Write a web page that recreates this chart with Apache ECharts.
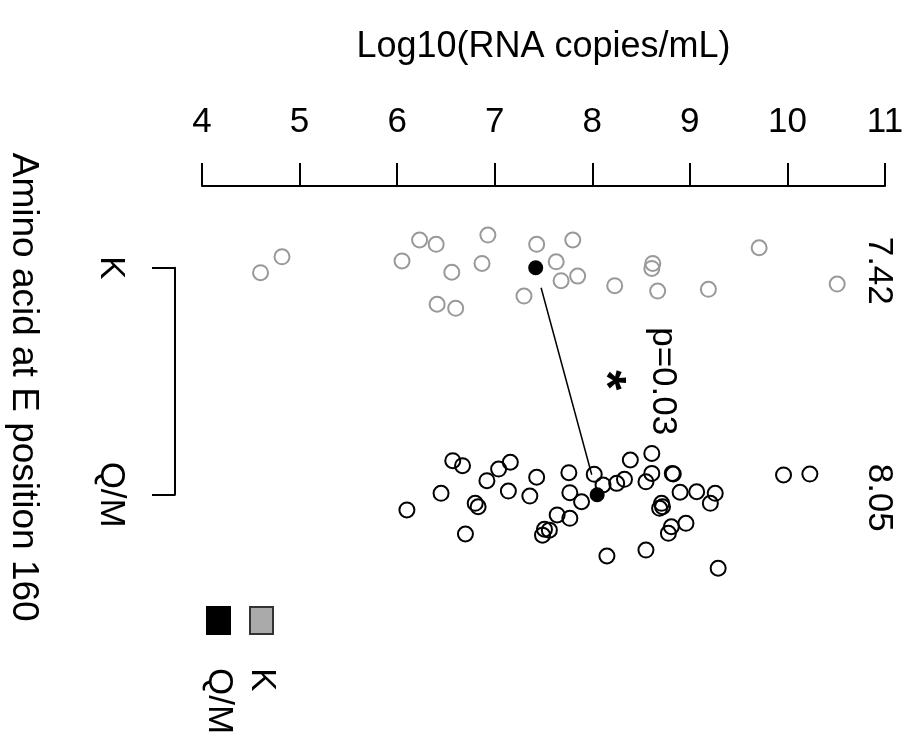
<!DOCTYPE html>
<html>
<head>
<meta charset="utf-8">
<script src="https://cdn.jsdelivr.net/npm/echarts@6/dist/echarts.min.js"></script>
<style>
  html, body { margin: 0; padding: 0; background: #fff; }
  #main { width: 913px; height: 746px; }
</style>
</head>
<body>
<div id="main"></div>
<script>
const groups = ["K", "Q/M"]
const circleColors = ["#999999", "#000000"]
const legendFill = ["#aaaaaa", "#000000"]
const legendBorder = ["#333333", "#000000"]

// Log10 viral load per sample, with the vertical jitter position of each point
const kValues = [4.60, 4.82, 6.05, 6.23, 6.40, 6.93, 6.56, 6.87, 6.41, 6.60, 7.43, 7.80,
  7.63, 7.68, 7.85, 7.30, 8.23, 8.62, 8.61, 8.67, 9.19, 9.71, 10.51]
const kPos = [1.022, 0.952, 0.970, 0.878, 0.897, 0.856, 1.020, 0.981, 1.161, 1.179, 0.897, 0.878,
  0.974, 1.057, 1.037, 1.125, 1.079, 0.981, 1.003, 1.103, 1.095, 0.912, 1.072]

const qmValues = [6.10, 6.45, 6.57, 6.67, 6.70, 6.80, 6.83, 6.92, 7.04, 7.14, 7.16, 7.36,
  7.43, 7.49, 7.51, 7.56, 7.64, 7.76, 7.77, 7.77, 7.89, 8.02, 8.11, 8.15, 8.25, 8.33, 8.39,
  8.55, 8.55, 8.61, 8.61, 8.69, 8.72, 8.71, 8.78, 8.81, 8.82, 8.83, 8.90, 8.96, 9.07, 9.21,
  9.26, 9.29, 9.96, 10.23]
const qmPos = [2.067, 1.994, 1.850, 1.872, 2.173, 2.038, 2.053, 1.938, 1.887, 1.984, 1.857, 2.006,
  1.923, 2.178, 2.152, 2.156, 2.089, 1.903, 1.991, 2.104, 2.031, 1.910, 1.957, 2.270, 1.950, 1.932,
  1.847, 1.943, 2.244, 1.906, 1.818, 2.060, 2.053, 2.038, 2.170, 2.141, 1.906, 1.909, 1.989, 2.126,
  1.987, 2.038, 1.994, 2.324, 1.913, 1.909]

const medians = [7.42, 8.05]
const pText = "p=0.03"
const xMin = 4
const xMax = 11

const font = "'Liberation Sans', Arial, sans-serif"
const chart = echarts.init(document.getElementById("main"))

// connecting line between the medians, with a small gap at each end
const gap = 0.088
const lineData = [
  [medians[0] + (medians[1] - medians[0]) * gap, 1 + gap],
  [medians[1] - (medians[1] - medians[0]) * gap, 2 - gap],
]

const option = {
  animation: false,
  backgroundColor: "#fff",
  textStyle: { fontFamily: font, color: "#000" },
  grid: [
    { left: 202, right: 28, top: 186, height: 454 },
    { left: 175, width: 10, top: 267.7, height: 227 },
  ],
  xAxis: [
    {
      type: "value",
      position: "top",
      min: xMin,
      max: xMax,
      interval: 1,
      name: "Log10(RNA copies/mL)",
      nameLocation: "middle",
      nameGap: 121,
      nameTextStyle: { fontSize: 36, color: "#000", fontFamily: font },
      axisLine: { lineStyle: { color: "#000", width: 2 } },
      axisTick: { length: 23, lineStyle: { color: "#000", width: 2 } },
      axisLabel: { fontSize: 35, color: "#000", margin: 46, fontFamily: font },
      splitLine: { show: false },
    },
    { gridIndex: 1, type: "value", show: false },
  ],
  yAxis: [
    { type: "value", min: 0.64, max: 2.64, inverse: true, show: false },
    {
      gridIndex: 1,
      type: "value",
      min: 1,
      max: 2,
      interval: 1,
      inverse: true,
      name: "Amino acid at E position 160",
      nameLocation: "middle",
      nameRotate: -90,
      nameGap: 133,
      nameTextStyle: { fontSize: 37, color: "#000", fontFamily: font, padding: [0, 0, 0, 12] },
      axisLine: { lineStyle: { color: "#000", width: 2 } },
      axisTick: { length: 23, lineStyle: { color: "#000", width: 2 } },
      axisLabel: {
        rotate: -90,
        margin: 47,
        fontSize: 35,
        color: "#000",
        fontFamily: font,
        formatter: v => groups[v - 1] || "",
      },
      splitLine: { show: false },
    },
  ],
  series: [
    {
      type: "scatter",
      data: kValues.map((v, i) => [v, kPos[i]]),
      symbol: "circle",
      symbolSize: 15,
      itemStyle: { color: "rgba(0,0,0,0)", borderColor: circleColors[0], borderWidth: 2, opacity: 1 },
      z: 2,
    },
    {
      type: "scatter",
      data: qmValues.map((v, i) => [v, qmPos[i]]),
      symbol: "circle",
      symbolSize: 15,
      itemStyle: { color: "rgba(0,0,0,0)", borderColor: circleColors[1], borderWidth: 2, opacity: 1 },
      z: 2,
    },
    {
      type: "line",
      data: lineData,
      symbol: "none",
      lineStyle: { color: "#000", width: 1.5 },
      z: 3,
    },
    {
      type: "scatter",
      data: medians.map((m, i) => [m, i + 1]),
      symbolSize: 15,
      itemStyle: { color: "#000", opacity: 1 },
      z: 4,
    },
    {
      // median values printed at the right edge
      type: "scatter",
      data: medians.map((m, i) => [xMax, i + 1]),
      symbolSize: 0,
      itemStyle: { opacity: 1 },
      label: {
        show: true,
        position: "inside",
        offset: [3, 6],
        rotate: -90,
        fontSize: 35,
        color: "#000",
        fontFamily: font,
        formatter: p => medians[p.dataIndex].toFixed(2),
      },
      z: 5,
    },
    {
      // significance annotation
      type: "scatter",
      data: [[8.725, 1.5]],
      symbolSize: 0,
      itemStyle: { opacity: 1 },
      label: {
        show: true,
        position: "inside",
        rotate: -90,
        fontSize: 35,
        color: "#000",
        fontFamily: font,
        formatter: pText,
      },
      z: 5,
    },
    {
      type: "scatter",
      data: [[8.12, 1.495]],
      symbolSize: 0,
      itemStyle: { opacity: 1 },
      label: {
        show: true,
        position: "inside",
        rotate: -90,
        fontSize: 52,
        fontWeight: "bold",
        color: "#000",
        fontFamily: font,
        formatter: "*",
      },
      z: 5,
    },
  ],
  graphic: [1, 0].flatMap((g, k) => {
    const cx = 218.5 + k * 43
    return [
      {
        type: "rect",
        shape: { x: cx - 11.5, y: 607, width: 23, height: 27 },
        style: { fill: legendFill[g], stroke: legendBorder[g], lineWidth: 2 },
      },
      {
        type: "text",
        x: cx,
        y: 668,
        rotation: -Math.PI / 2,
        style: {
          text: groups[g],
          fontSize: 35,
          fontFamily: font,
          fill: "#000",
          align: "left",
          verticalAlign: "middle",
        },
      },
    ]
  }),
}

chart.setOption(option)
</script>
</body>
</html>
